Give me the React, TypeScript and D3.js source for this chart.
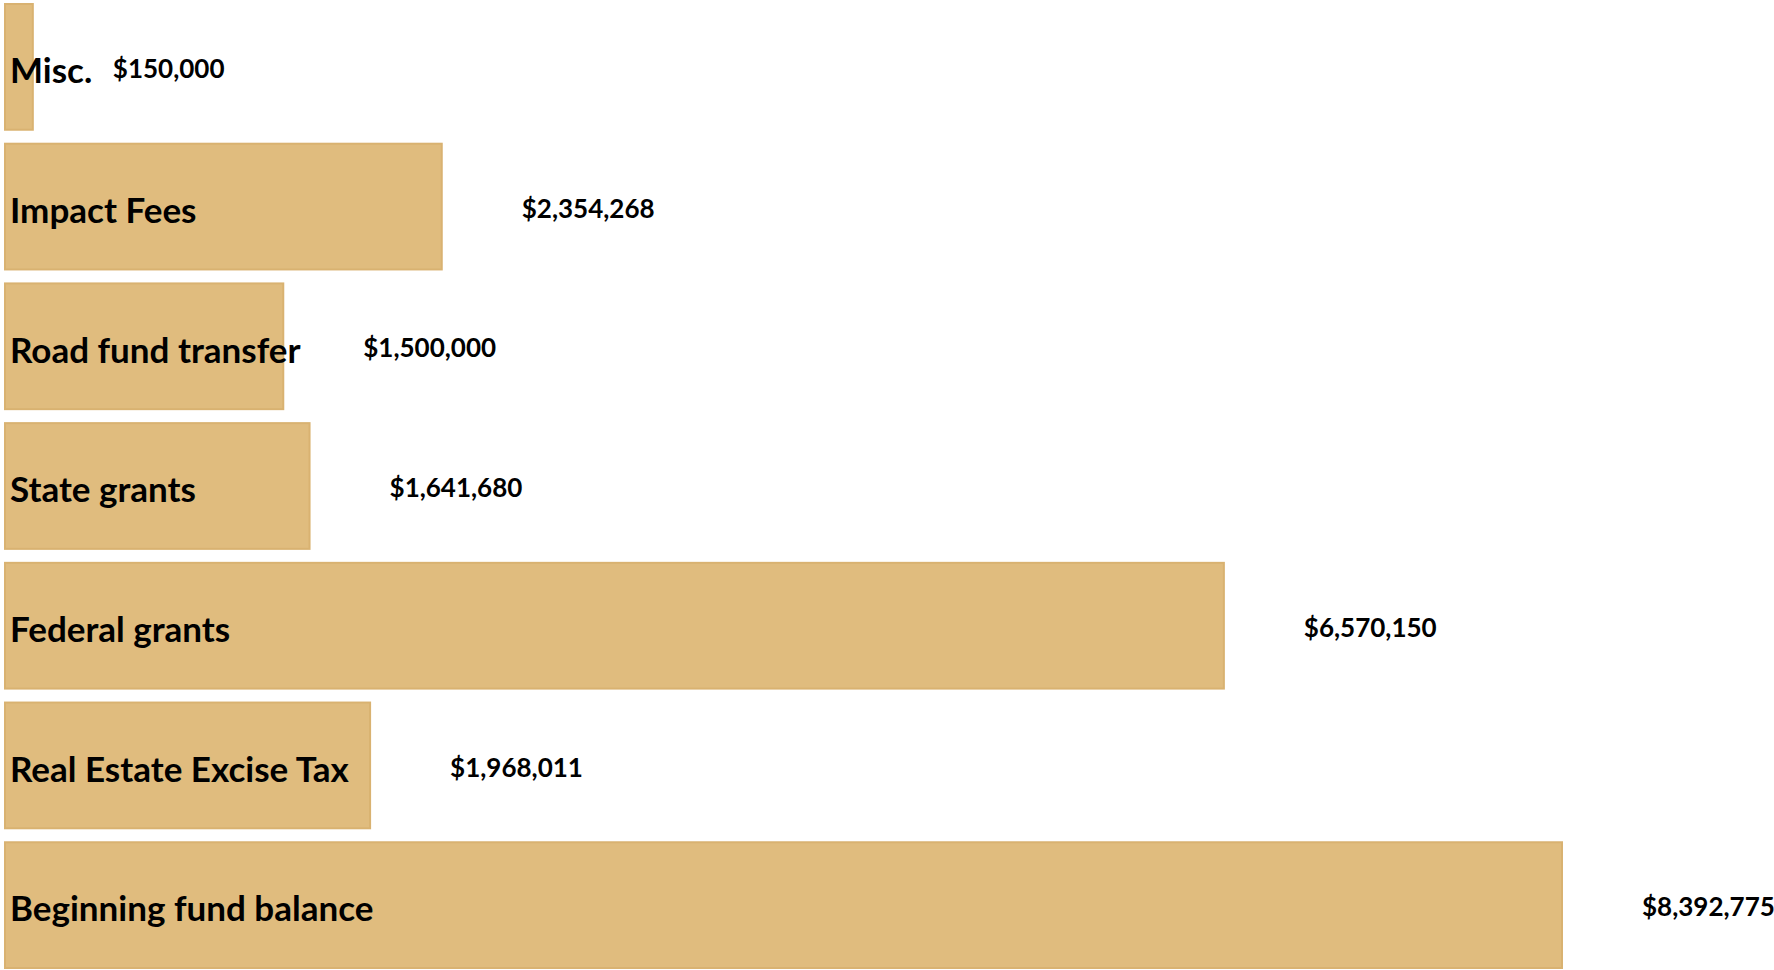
import { useEffect, useRef } from "react"
import * as d3 from "d3"

// revenue sources, top to bottom
const categories = [
  "Misc.",
  "Impact Fees",
  "Road fund transfer",
  "State grants",
  "Federal grants",
  "Real Estate Excise Tax",
  "Beginning fund balance",
]

const amounts = [150000, 2354268, 1500000, 1641680, 6570150, 1968011, 8392775]

const valueLabels = [
  "$150,000",
  "$2,354,268",
  "$1,500,000",
  "$1,641,680",
  "$6,570,150",
  "$1,968,011",
  "$8,392,775",
]

export default function App() {
  const svgRef = useRef<SVGSVGElement>(null)

  useEffect(() => {
    if (!svgRef.current) return
    document.body.style.margin = "0"

    const width = 1774
    const height = 970

    const svg = d3.select(svgRef.current)
    svg.selectAll("*").remove()
    svg.attr("width", width).attr("height", height)

    const x = d3.scaleLinear().domain([0, d3.max(amounts)!]).range([5, 1562])
    const y = d3.scaleBand<string>().domain(categories).range([4, 968]).paddingInner(0.1).paddingOuter(0)

    const data = categories.map((c, i) => ({ label: c, value: amounts[i], text: valueLabels[i] }))

    const rows = svg
      .selectAll(".row")
      .data(data)
      .enter()
      .append("g")
      .attr("class", "row")

    // bars
    rows
      .append("rect")
      .attr("x", x(0))
      .attr("y", (d) => y(d.label)!)
      .attr("width", (d) => x(d.value) - x(0))
      .attr("height", y.bandwidth())
      .attr("fill", "#e0bc7e")
      .attr("stroke", "#d9b271")
      .attr("stroke-width", 2)

    // category names inside bars
    rows
      .append("text")
      .attr("x", 10)
      .attr("y", (d) => y(d.label)! + y.bandwidth() / 2 + 4)
      .attr("dy", "0.35em")
      .style("font-family", "Lato, 'Open Sans', sans-serif")
      .style("font-weight", "bold")
      .style("font-size", "35px")
      .style("fill", "#000")
      .text((d) => d.label)

    // amounts right of bars
    rows
      .append("text")
      .attr("x", (d) => x(d.value) + 80)
      .attr("y", (d) => y(d.label)! + y.bandwidth() / 2 + 2)
      .attr("dy", "0.35em")
      .style("font-family", "Lato, 'Open Sans', sans-serif")
      .style("font-weight", "bold")
      .style("font-size", "26px")
      .style("fill", "#000")
      .text((d) => d.text)
  }, [])

  return (
    <div style={{ background: "#fff", width: 1774, height: 970, overflow: "hidden" }}>
      <svg ref={svgRef} style={{ display: "block" }}></svg>
    </div>
  )
}
